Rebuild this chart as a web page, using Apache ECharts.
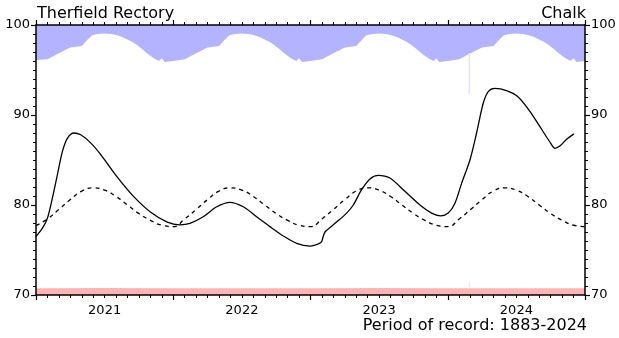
<!DOCTYPE html>
<html>
<head>
<meta charset="utf-8">
<script src="https://cdn.jsdelivr.net/npm/echarts@6/dist/echarts.min.js"></script>
<style>html,body{margin:0;padding:0;background:#fff}#chart{width:619px;height:338px}</style>
</head>
<body>
<div id="chart"></div>
<script>
// x values are months since 1 Jan 2021
const yearLabels = ['2021', '2022', '2023', '2024'];
const yearLabelAt = [6, 18, 30, 42];

// Observed groundwater level (m AOD)
const levelObs = [
  [0,76.5],[0.55,77.4],[0.99,78.5],[1.42,80.7],[1.86,83.3],[2.3,85.9],[2.74,87.4],[3.32,88.0],[3.91,87.8],
  [4.78,86.9],[5.66,85.6],[7.11,83.1],[8.57,80.9],[10.03,79.2],[11.48,78.1],[12.59,77.8],[13.46,77.96],
  [14.62,78.7],[15.8,79.8],[16.96,80.3],[18.12,79.8],[19.29,78.7],[20.45,77.6],[21.62,76.56],[22.79,75.74],
  [23.95,75.44],[24.65,75.65],[24.96,75.9],[25.11,76.5],[25.3,77.05],[26.28,78.1],[27.16,79.1],[27.74,80.0],
  [28.47,81.7],[29.2,82.9],[29.92,83.3],[30.94,83.0],[32.11,81.7],[33.57,80.0],[34.59,79.1],[35.38,78.8],
  [36.04,79.1],[36.63,80.2],[37.21,82.4],[37.94,85.0],[38.52,88.0],[39.1,91.3],[39.54,92.6],[40.12,92.96],
  [41.14,92.7],[42.16,92.0],[43.18,90.4],[44.06,88.7],[44.93,87.0],[45.37,86.3],[45.8,86.55],[46.39,87.3],
  [47.03,87.9]
];

// Long-term average level
const levelAvg = [
  [0,77.7],[1,78.45],[2,79.5],[3,80.6],[4,81.55],[5,81.9],[6,81.65],[7,80.95],[8,80.0],[9,79.05],[10,78.3],[11,77.75],
  [12,77.6],[13,78.45],[14,79.5],[15,80.6],[16,81.55],[17,81.9],[18,81.65],[19,80.95],[20,80.0],[21,79.05],[22,78.3],[23,77.75],
  [24,77.6],[25,78.45],[26,79.5],[27,80.6],[28,81.55],[29,81.9],[30,81.65],[31,80.95],[32,80.0],[33,79.05],[34,78.3],[35,77.75],
  [36,77.6],[37,78.45],[38,79.5],[39,80.6],[40,81.55],[41,81.9],[42,81.65],[43,80.95],[44,80.0],[45,79.05],[46,78.3],[47,77.75],
  [48,77.6]
];

// Historic maximum (area above is shaded blue)
const levelMax = [
  [0,96.1],[1,96.2],[2,96.85],[3,97.5],[4,97.67],[4.15,97.8],[4.5,98.35],[4.9,98.85],[5.4,99.0],[6,99.05],[6.6,99.0],[7,98.9],[7.5,98.7],[7.9,98.45],[8.4,98.15],[8.8,97.8],[9.3,97.3],[9.7,96.85],[10.3,96.3],[10.75,96.0],[11,96.3],[11.25,95.9],
  [12,96.0],[13,96.2],[14,96.85],[15,97.5],[16,97.67],[16.15,97.8],[16.5,98.35],[16.9,98.85],[17.4,99.0],[18,99.05],[18.6,99.0],[19,98.9],[19.5,98.7],[19.9,98.45],[20.4,98.15],[20.8,97.8],[21.3,97.3],[21.7,96.85],[22.3,96.3],[22.75,96.0],[23,96.3],[23.25,95.9],
  [24,96.0],[25,96.2],[26,96.85],[27,97.5],[28,97.67],[28.15,97.8],[28.5,98.35],[28.9,98.85],[29.4,99.0],[30,99.05],[30.6,99.0],[31,98.9],[31.5,98.7],[31.9,98.45],[32.4,98.15],[32.8,97.8],[33.3,97.3],[33.7,96.85],[34.3,96.3],[34.75,96.0],[35,96.3],[35.25,95.9],
  [36,96.0],[37,96.2],[38,96.85],[39,97.5],[40,97.67],[40.15,97.8],[40.5,98.35],[40.9,98.85],[41.4,99.0],[42,99.05],[42.6,99.0],[43,98.9],[43.5,98.7],[43.9,98.45],[44.4,98.15],[44.8,97.8],[45.3,97.3],[45.7,96.85],[46.3,96.3],[46.75,96.0],[47,96.3],[47.25,95.9],
  [48,96.0]
];

// Historic minimum (area below is shaded red)
const levelMin = [[0,70.75],[6,70.78],[12,70.75],[18,70.76],[24,70.75],[30,70.77],[36,70.75],[42,70.75],[48,70.75]];

// Short gap marks in the envelopes
const maxGap = [[37.89,96.9],[37.89,92.3]];
const minGap = [[37.89,70.75],[37.89,71.4]];

const FONT = 'DejaVu Sans';
const chart = echarts.init(document.getElementById('chart'), null, {renderer: 'canvas'});

const xBase = {
  type: 'value', min: 0, max: 48, interval: 12, z: 5,
  axisLine: {show: true, onZero: false, lineStyle: {color: '#000', width: 1.5}},
  axisTick: {show: true, inside: false, length: 5, lineStyle: {color: '#000', width: 1.2}},
  minorTick: {show: true, splitNumber: 12, length: 3, lineStyle: {color: '#000', width: 1}},
  splitLine: {show: false}, minorSplitLine: {show: false}
};
const yBase = {
  type: 'value', min: 70, max: 100, interval: 10, z: 5,
  axisLine: {show: true, onZero: false, lineStyle: {color: '#000', width: 1.5}},
  axisTick: {show: true, inside: false, length: 5, lineStyle: {color: '#000', width: 1.2}},
  minorTick: {show: true, splitNumber: 10, length: 3, lineStyle: {color: '#000', width: 1}},
  splitLine: {show: false}, minorSplitLine: {show: false},
  axisLabel: {fontFamily: FONT, fontSize: 13, color: '#000', margin: 6}
};

chart.setOption({
  animation: false,
  backgroundColor: '#fff',
  grid: {left: 36, right: 34, top: 25, bottom: 43, outerBoundsMode: 'none', containLabel: false},
  title: [
    {text: 'Therfield Rectory', left: 37, top: 6, padding: 0, textStyle: {fontFamily: FONT, fontSize: 16, fontWeight: 'normal', color: '#000'}},
    {text: 'Chalk', right: 33, top: 6, padding: 0, textStyle: {fontFamily: FONT, fontSize: 16, fontWeight: 'normal', color: '#000'}},
    {text: 'Period of record: 1883-2024', right: 32, top: 318, padding: 0, textStyle: {fontFamily: FONT, fontSize: 16, fontWeight: 'normal', color: '#000'}}
  ],
  xAxis: [
    Object.assign({}, xBase, {
      position: 'bottom',
      axisLabel: {show: true, customValues: yearLabelAt, fontFamily: FONT, fontSize: 13, color: '#000', margin: 9,
        formatter: v => yearLabels[yearLabelAt.indexOf(v)] || ''}
    }),
    Object.assign({}, xBase, {position: 'top', axisLabel: {show: false}})
  ],
  yAxis: [
    Object.assign({}, yBase, {position: 'left'}),
    Object.assign({}, yBase, {position: 'right'})
  ],
  series: [
    {type: 'line', data: levelMax, showSymbol: false, symbol: 'none', z: 1,
     lineStyle: {width: 0}, areaStyle: {color: '#b3b3ff', opacity: 1, origin: 'end'}},
    {type: 'line', data: levelMin, showSymbol: false, symbol: 'none', z: 1,
     lineStyle: {width: 0}, areaStyle: {color: '#ffb3b3', opacity: 1, origin: 'start'}},
    {type: 'line', data: maxGap, showSymbol: false, symbol: 'none', z: 1,
     lineStyle: {width: 1.5, color: '#e2e2ff'}},
    {type: 'line', data: minGap, showSymbol: false, symbol: 'none', z: 1,
     lineStyle: {width: 1.5, color: '#ffe6e6'}},
    {type: 'line', data: levelAvg, showSymbol: false, symbol: 'none', smooth: 0.5, z: 3,
     lineStyle: {width: 1.3, color: '#000', type: [4, 4]}},
    {type: 'line', data: levelObs, showSymbol: false, symbol: 'none', smooth: 0.3, z: 4,
     lineStyle: {width: 1.3, color: '#000'}}
  ]
});
</script>
</body>
</html>
